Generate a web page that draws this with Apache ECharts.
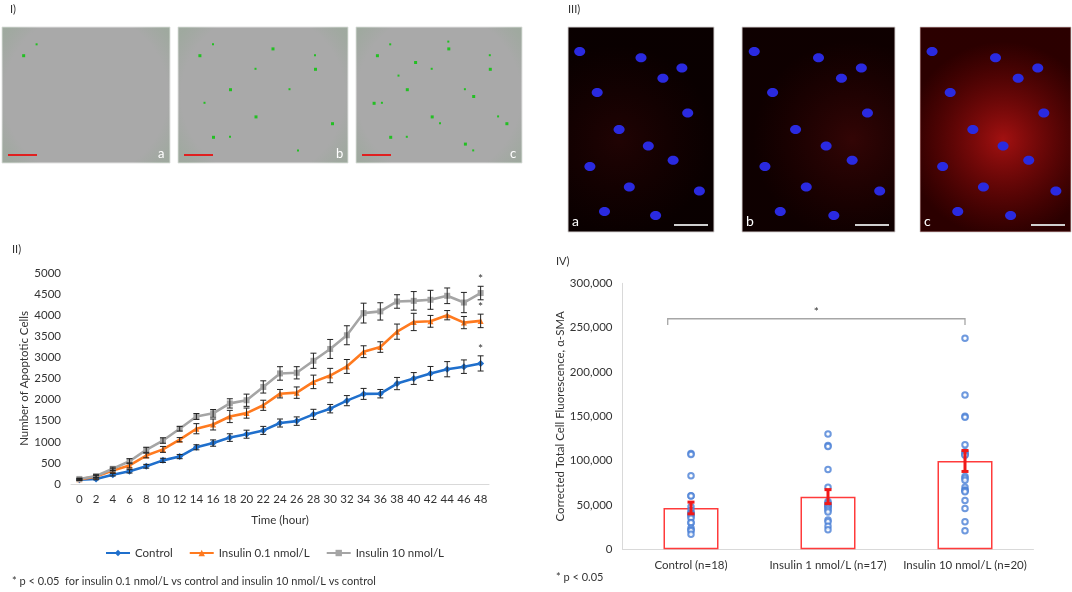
<!DOCTYPE html>
<html>
<head>
<meta charset="utf-8">
<script src="https://cdn.jsdelivr.net/npm/echarts@6/dist/echarts.min.js"></script>
<style>
html,body{margin:0;padding:0;background:#fff;}
#main{width:1072px;height:592px;}
</style>
</head>
<body>
<div id="main"></div>
<script>
// ---------- Panel II data: apoptotic cells over time ----------
var hours = ['0','2','4','6','8','10','12','14','16','18','20','22','24','26','28','30','32','34','36','38','40','42','44','46','48'];
var controlCells = [100,120,220,300,420,560,650,870,970,1100,1180,1270,1445,1490,1650,1785,1975,2135,2140,2380,2500,2620,2720,2780,2857];
var controlErr   = [15,20,30,40,45,50,50,60,75,90,95,95,95,100,120,100,120,130,100,145,140,165,180,160,180];
var ins01Cells   = [110,175,320,440,675,820,1050,1310,1410,1600,1680,1865,2140,2165,2420,2570,2785,3135,3245,3610,3840,3855,4000,3825,3865];
var ins01Err     = [20,30,40,60,55,70,50,120,130,145,120,120,100,135,160,170,165,140,125,180,205,140,110,145,160];
var ins10Cells   = [120,190,360,540,810,1030,1310,1600,1675,1910,1985,2300,2620,2635,2920,3200,3525,4050,4090,4325,4340,4365,4460,4300,4525];
var ins10Err     = [20,30,40,60,60,65,55,70,90,110,145,145,160,145,180,225,225,235,205,160,220,225,185,240,160];
var seriesNames  = ['Control','Insulin 0.1 nmol/L','Insulin 10 nmol/L'];
var sigIndexII   = 24; // 48 h point marked with *

// ---------- Panel IV data: CTCF alpha-SMA ----------
var groups = ['Control (n=18)','Insulin 1 nmol/L (n=17)','Insulin 10 nmol/L (n=20)'];
var groupMeans = [46600, 59400, 99600];
var groupSems  = [6600, 7900, 11800];
var controlPts = [108000,107000,83000,60500,60000,48000,44000,41000,40000,39000,37000,35000,30000,30000,24000,22000,21000,17000];
var ins1Pts    = [130000,117000,116000,90000,70000,54000,52000,50000,49000,48000,46000,44000,42000,33000,31000,26000,22000];
var ins10Pts   = [238000,174000,150000,149000,118000,110000,108000,107000,106000,82000,80000,78000,70000,67000,66000,65000,55000,46000,31000,21000];
var bracketFrom = 0, bracketTo = 2, bracketLevel = 260000, bracketDrop = 253000;

var FONT = 'Lato, "Open Sans", sans-serif';
var TXT = '#333333';
var FS = 11.5;
var colors = ['#1F6FCC', '#FF7A1F', '#A5A5A5'];

function errData(means, errs) {
  return means.map(function (m, i) { return [i, m - errs[i], m + errs[i]]; });
}
function errRender(color, lw, cap) {
  return function (params, api) {
    var x = api.value(0);
    var p1 = api.coord([x, api.value(1)]);
    var p2 = api.coord([x, api.value(2)]);
    var st = { stroke: color, lineWidth: lw };
    return {
      type: 'group',
      children: [
        { type: 'line', shape: { x1: p1[0], y1: p1[1], x2: p2[0], y2: p2[1] }, style: st },
        { type: 'line', shape: { x1: p1[0] - cap, y1: p1[1], x2: p1[0] + cap, y2: p1[1] }, style: st },
        { type: 'line', shape: { x1: p2[0] - cap, y1: p2[1], x2: p2[0] + cap, y2: p2[1] }, style: st }
      ]
    };
  };
}
function starRender(params, api) {
  var p = api.coord([api.value(0), api.value(1)]);
  return { type: 'text', style: { text: '*', x: p[0], y: p[1] - 7, align: 'center', verticalAlign: 'middle', fill: TXT, font: '12px ' + FONT } };
}
function scatterData(idx, pts) { return pts.map(function (v) { return [idx, v]; }); }

// ---------- decorative image panels (micrographs, not data) ----------
var graphics = [];
function txt(x, y, s, size, color) {
  return { type: 'text', left: x, top: y, style: { text: s, fill: color || TXT, font: (size || FS) + 'px ' + FONT } };
}
graphics.push(txt(10, 4, 'I)', 11));
graphics.push(txt(568, 4, 'III)', 11));
graphics.push(txt(12, 244, 'II)', 11));
graphics.push(txt(556, 256, 'IV)', 11));

// Panel I phase-contrast images
var p1 = [[2, 168, 'a', 0.04], [178, 170, 'b', 0.35], [356, 166, 'c', 0.6]];
var dotSpots = [[0.12,0.2],[0.3,0.45],[0.55,0.15],[0.8,0.3],[0.9,0.7],[0.2,0.8],[0.45,0.65],[0.65,0.85],[0.7,0.5],[0.35,0.25],[0.1,0.55],[0.6,0.38],[0.85,0.12],[0.4,0.9],[0.95,0.45],[0.25,0.6],[0.52,0.52],[0.75,0.68]];
p1.forEach(function (d) {
  graphics.push({ type: 'rect', shape: { x: d[0], y: 27, width: d[1], height: 136 },
    style: { fill: '#A9A9A9', stroke: '#E2E2E2', lineWidth: 1 } });
  graphics.push({ type: 'rect', shape: { x: d[0], y: 27, width: d[1], height: 136 },
    style: { fill: new echarts.graphic.RadialGradient(0.5, 0.5, 0.75, [
      { offset: 0, color: 'rgba(80,160,80,0)' }, { offset: 0.8, color: 'rgba(80,160,80,0)' }, { offset: 1, color: 'rgba(90,170,90,0.12)' }]) } });
  dotSpots.forEach(function (s, k) {
    if (k / dotSpots.length < d[3]) {
      graphics.push({ type: 'rect', shape: { x: d[0] + s[0] * d[1], y: 27 + s[1] * 136, width: 3, height: 3 }, style: { fill: '#22C022' } });
      graphics.push({ type: 'rect', shape: { x: d[0] + s[1] * d[1], y: 27 + s[0] * 136, width: 2, height: 2 }, style: { fill: '#22C022' } });
    }
  });
  graphics.push({ type: 'rect', shape: { x: d[0] + 6, y: 154, width: 29, height: 2 }, style: { fill: '#E02020' } });
  graphics.push({ type: 'text', left: d[0] + d[1] - 12, top: 147, style: { text: d[2], fill: '#ffffff', font: '13px ' + FONT } });
});

// Panel III confocal images
var p3 = [[568, 146, 'a', 0.16, 0.35], [742, 153, 'b', 0.26, 0.72], [920, 151, 'c', 0.85, 0.55]];
var nuclei = [[0.08,0.12],[0.5,0.15],[0.78,0.2],[0.2,0.32],[0.65,0.25],[0.35,0.5],[0.82,0.42],[0.55,0.58],[0.15,0.68],[0.72,0.65],[0.42,0.78],[0.9,0.8],[0.25,0.9],[0.6,0.92]];
p3.forEach(function (d) {
  graphics.push({ type: 'rect', shape: { x: d[0], y: 27, width: d[1], height: 205 }, style: { fill: '#020000', stroke: '#D8D8D8', lineWidth: 1 } });
  graphics.push({ type: 'rect', shape: { x: d[0], y: 27, width: d[1], height: 205 },
    style: { fill: new echarts.graphic.RadialGradient(d[4], 0.55, 0.65, [
      { offset: 0, color: 'rgba(190,20,20,' + d[3] + ')' }, { offset: 1, color: 'rgba(140,0,0,' + (d[3] * 0.35) + ')' }]) } });
  nuclei.forEach(function (n) {
    graphics.push({ type: 'ellipse', shape: { cx: d[0] + n[0] * d[1], cy: 27 + n[1] * 205, rx: 5.5, ry: 4.5 }, style: { fill: '#2A2AE0' } });
  });
  graphics.push({ type: 'rect', shape: { x: d[0] + d[1] - 40, y: 224, width: 34, height: 2 }, style: { fill: '#CFCFCF' } });
  graphics.push({ type: 'text', left: d[0] + 4, top: 214, style: { text: d[2], fill: '#ffffff', font: '14px ' + FONT } });
});

// Footnotes
graphics.push(txt(12, 576, '* p < 0.05  for insulin 0.1 nmol/L vs control and insulin 10 nmol/L vs control', 11));
graphics.push(txt(556, 572, '* p < 0.05', 11));

var option = {
  animation: false,
  backgroundColor: '#ffffff',
  textStyle: { fontFamily: FONT },
  graphic: graphics,
  legend: {
    left: 100, top: 542, itemWidth: 24, itemHeight: 8, itemGap: 16,
    data: seriesNames,
    textStyle: { fontSize: FS, color: TXT, fontFamily: FONT }
  },
  grid: [
    { left: 71, top: 273, width: 418, height: 211 },
    { left: 622.5, top: 283.3, width: 411, height: 266 }
  ],
  xAxis: [
    { type: 'category', gridIndex: 0, data: hours, boundaryGap: true,
      name: 'Time (hour)', nameLocation: 'middle', nameGap: 30,
      nameTextStyle: { fontSize: FS, color: TXT, fontFamily: FONT },
      axisLine: { lineStyle: { color: '#D9D9D9' } }, axisTick: { show: false },
      axisLabel: { fontSize: FS, color: TXT, margin: 9, interval: 0 } },
    { type: 'category', gridIndex: 1, data: groups, boundaryGap: true,
      axisLine: { lineStyle: { color: '#D9D9D9' } }, axisTick: { show: false },
      axisLabel: { fontSize: FS, color: TXT, margin: 10, interval: 0 } }
  ],
  yAxis: [
    { type: 'value', gridIndex: 0, min: 0, max: 5000, interval: 500,
      name: 'Number of Apoptotic Cells', nameLocation: 'middle', nameGap: 35, nameRotate: 90,
      nameTextStyle: { fontSize: FS, color: TXT, fontFamily: FONT },
      axisLine: { show: false }, axisTick: { show: false }, splitLine: { show: false },
      axisLabel: { fontSize: FS, color: TXT, margin: 10, formatter: function (v) { return String(v); } } },
    { type: 'value', gridIndex: 1, min: 0, max: 300000, interval: 50000,
      name: 'Corrected Total Cell Fluorescence, \u03B1-SMA', nameLocation: 'middle', nameGap: 52, nameRotate: 90,
      nameTextStyle: { fontSize: FS, color: TXT, fontFamily: FONT },
      axisLine: { show: true, lineStyle: { color: '#D9D9D9' } }, axisTick: { show: false }, splitLine: { show: false },
      axisLabel: { fontSize: FS, color: TXT, margin: 10, formatter: function (v) { return v.toLocaleString('en-US'); } } }
  ],
  series: [
    { name: seriesNames[0], type: 'line', xAxisIndex: 0, yAxisIndex: 0, data: controlCells, color: colors[0],
      symbol: 'diamond', symbolSize: 7, lineStyle: { width: 2.6 }, z: 5 },
    { name: seriesNames[1], type: 'line', xAxisIndex: 0, yAxisIndex: 0, data: ins01Cells, color: colors[1],
      symbol: 'triangle', symbolSize: 6, lineStyle: { width: 2.6 }, z: 5 },
    { name: seriesNames[2], type: 'line', xAxisIndex: 0, yAxisIndex: 0, data: ins10Cells, color: colors[2],
      symbol: 'rect', symbolSize: 6, lineStyle: { width: 2.6 }, z: 5 },
    { type: 'custom', xAxisIndex: 0, yAxisIndex: 0, data: errData(controlCells, controlErr), renderItem: errRender('#222', 1, 3), z: 6, silent: true },
    { type: 'custom', xAxisIndex: 0, yAxisIndex: 0, data: errData(ins01Cells, ins01Err), renderItem: errRender('#222', 1, 3), z: 6, silent: true },
    { type: 'custom', xAxisIndex: 0, yAxisIndex: 0, data: errData(ins10Cells, ins10Err), renderItem: errRender('#222', 1, 3), z: 6, silent: true },
    { type: 'custom', xAxisIndex: 0, yAxisIndex: 0, silent: true, z: 6, renderItem: starRender,
      data: [
        [sigIndexII, controlCells[sigIndexII] + controlErr[sigIndexII]],
        [sigIndexII, ins01Cells[sigIndexII] + ins01Err[sigIndexII]],
        [sigIndexII, ins10Cells[sigIndexII] + ins10Err[sigIndexII]]
      ] },
    { type: 'bar', xAxisIndex: 1, yAxisIndex: 1, data: groupMeans, barWidth: 55,
      itemStyle: { color: 'rgba(255,255,255,0)', borderColor: '#FF3B3B', borderWidth: 1.5 }, z: 2 },
    { type: 'scatter', xAxisIndex: 1, yAxisIndex: 1, symbol: 'emptyCircle', symbolSize: 5.5,
      itemStyle: { color: '#4A7FD6', borderColor: '#4A7FD6', borderWidth: 1.2 }, z: 3,
      data: scatterData(0, controlPts).concat(scatterData(1, ins1Pts), scatterData(2, ins10Pts)) },
    { type: 'custom', xAxisIndex: 1, yAxisIndex: 1, data: errData(groupMeans, groupSems), renderItem: errRender('#F01818', 3, 3.5), z: 6, silent: true },
    { type: 'custom', xAxisIndex: 1, yAxisIndex: 1, silent: true, z: 4,
      data: [[bracketFrom, bracketTo, bracketLevel, bracketDrop]],
      renderItem: function (params, api) {
        var band = api.size([1, 0])[0];
        var a = api.coord([api.value(0), api.value(2)]);
        var b = api.coord([api.value(1), api.value(2)]);
        var d = api.coord([api.value(1), api.value(3)]);
        var x0 = a[0] - band * 0.17, x1 = b[0];
        var st = { stroke: '#A6A6A6', lineWidth: 1.3, fill: null };
        return { type: 'group', children: [
          { type: 'polyline', shape: { points: [[x0, d[1]], [x0, a[1]], [x1, b[1]], [x1, d[1]]] }, style: st },
          { type: 'text', style: { text: '*', x: (x0 + x1) / 2, y: a[1] - 7, align: 'center', verticalAlign: 'middle', fill: TXT, font: '12px ' + FONT } }
        ] };
      } }
  ]
};

var chart = echarts.init(document.getElementById('main'), null, { renderer: 'canvas' });
chart.setOption(option);
</script>
</body>
</html>
